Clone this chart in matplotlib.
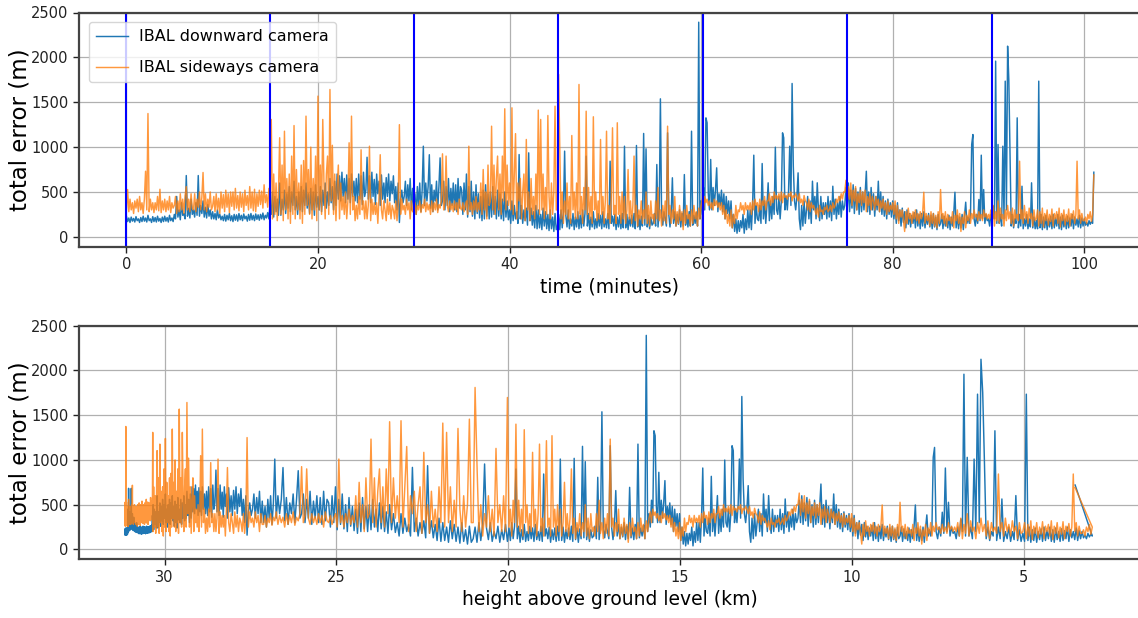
import numpy as np
import matplotlib
matplotlib.use("Agg")
import matplotlib.pyplot as plt

# ---- data: 8 samples per minute, one row per minute ----
down_cam = [
    230, 170, 210, 160, 220, 175, 205, 165,
    225, 180, 200, 160, 215, 170, 230, 175,
    210, 165, 240, 180, 200, 160, 225, 170,
    215, 165, 230, 175, 205, 160, 220, 170,
    230, 175, 215, 165, 240, 180, 210, 170,
    250, 200, 450, 220, 300, 190, 380, 240,
    260, 200, 683, 230, 320, 210, 420, 250,
    300, 220, 380, 240, 683, 230, 350, 260,
    400, 220, 330, 210, 360, 230, 300, 200,
    280, 200, 260, 190, 300, 210, 250, 190,
    230, 180, 250, 175, 240, 190, 260, 180,
    235, 170, 250, 185, 245, 175, 260, 190,
    240, 180, 255, 200, 230, 175, 250, 185,
    260, 190, 240, 180, 255, 195, 245, 185,
    250, 200, 265, 190, 240, 210, 270, 200,
    380, 250, 500, 220, 450, 280, 420, 240,
    600, 240, 420, 300, 520, 260, 480, 320,
    560, 280, 500, 350, 620, 300, 450, 250,
    500, 300, 560, 280, 520, 350, 600, 320,
    480, 260, 540, 300, 500, 240, 580, 330,
    450, 300, 560, 280, 520, 350, 600, 320,
    500, 350, 650, 380, 560, 300, 620, 350,
    700, 420, 680, 400, 720, 450, 650, 380,
    690, 420, 650, 380, 700, 450, 620, 400,
    650, 380, 700, 420, 680, 360, 720, 450,
    520, 887, 420, 680, 380, 720, 450, 640,
    360, 700, 480, 620, 350, 690, 420, 600,
    380, 660, 450, 700, 400, 620, 480, 680,
    380, 560, 300, 600, 160, 420, 520, 380,
    450, 620, 350, 580, 400, 650, 300, 540,
    300, 480, 250, 560, 350, 600, 280, 520,
    1010, 350, 600, 400, 560, 915, 320, 580,
    280, 520, 400, 620, 300, 560, 880, 350,
    400, 620, 300, 560, 350, 650, 280, 540,
    350, 600, 300, 580, 280, 650, 320, 560,
    520, 250, 600, 300, 700, 220, 560, 280,
    620, 230, 500, 200, 580, 260, 480, 210,
    450, 180, 520, 200, 580, 230, 480, 200,
    500, 220, 560, 250, 450, 200, 520, 230,
    480, 200, 420, 180, 500, 220, 400, 190,
    300, 150, 400, 180, 350, 200, 280, 150,
    917, 200, 350, 150, 300, 180, 320, 130,
    936, 180, 320, 130, 280, 100, 350, 90,
    300, 100, 250, 80, 320, 120, 280, 90,
    250, 70, 300, 90, 220, 60, 260, 80,
    120, 250, 80, 300, 100, 280, 955, 240,
    110, 300, 90, 200, 120, 260, 80, 220,
    110, 280, 90, 240, 100, 300, 120, 260,
    899, 120, 260, 80, 220, 110, 280, 90,
    200, 100, 260, 120, 240, 90, 280, 110,
    200, 100, 260, 90, 843, 150, 230, 120,
    250, 80, 220, 110, 240, 90, 260, 100,
    1010, 100, 250, 80, 220, 120, 240, 110,
    260, 90, 1018, 110, 240, 80, 230, 120,
    1152, 130, 981, 110, 240, 90, 220, 130,
    150, 260, 120, 806, 110, 280, 1538, 240,
    130, 280, 200, 120, 1159, 250, 110, 260,
    658, 150, 280, 120, 250, 140, 300, 110,
    260, 120, 694, 130, 240, 110, 280, 120,
    1177, 130, 240, 150, 270, 120, 2392, 200,
    400, 250, 550, 300, 1326, 1271, 480, 300,
    862, 300, 550, 350, 520, 769, 280, 480,
    350, 520, 280, 480, 200, 450, 260, 400,
    200, 400, 100, 250, 60, 200, 40, 180,
    60, 180, 100, 250, 40, 200, 80, 300,
    100, 300, 80, 350, 910, 150, 350, 200,
    180, 350, 150, 817, 200, 400, 150, 350,
    602, 180, 400, 200, 450, 250, 999, 300,
    250, 450, 200, 400, 1159, 1104, 300, 450,
    300, 500, 1010, 350, 1709, 787, 400, 300,
    450, 713, 200, 80, 350, 120, 400, 150,
    300, 450, 200, 400, 150, 620, 300, 450,
    200, 602, 300, 180, 450, 200, 380, 250,
    380, 200, 450, 220, 400, 180, 564, 250,
    420, 200, 380, 250, 450, 220, 400, 300,
    350, 550, 300, 600, 280, 520, 320, 580,
    260, 540, 300, 500, 250, 550, 280, 500,
    300, 480, 731, 280, 500, 250, 550, 300,
    480, 230, 450, 300, 620, 280, 500, 250,
    450, 230, 400, 200, 420, 250, 380, 220,
    400, 200, 350, 150, 380, 180, 300, 120,
    320, 160, 280, 100, 300, 140, 260, 110,
    240, 150, 270, 100, 300, 120, 250, 90,
    260, 120, 280, 100, 230, 140, 260, 110,
    240, 90, 260, 110, 220, 80, 250, 120,
    150, 250, 90, 230, 120, 200, 100, 240,
    80, 220, 120, 260, 497, 100, 240, 90,
    220, 100, 250, 80, 240, 386, 150, 220,
    150, 250, 1029, 1140, 200, 120, 250, 150,
    416, 180, 910, 200, 527, 150, 250, 180,
    200, 120, 250, 150, 341, 200, 1958, 150,
    1029, 150, 250, 120, 1010, 200, 1735, 300,
    2125, 1754, 973, 120, 250, 100, 200, 150,
    1326, 100, 250, 120, 564, 90, 200, 120,
    250, 90, 200, 110, 602, 100, 220, 90,
    180, 90, 1735, 100, 250, 80, 220, 100,
    240, 80, 200, 110, 230, 90, 250, 100,
    210, 120, 250, 90, 220, 80, 240, 110,
    200, 90, 230, 100, 210, 120, 250, 90,
    220, 130, 200, 110, 240, 100, 210, 120,
    200, 130, 160, 120, 180, 140, 170, 150,
    720,
]
side_cam = [
    300, 527, 280, 420, 300, 380, 260, 400,
    320, 420, 280, 450, 300, 380, 260, 420,
    731, 300, 1374, 280, 420, 300, 380, 270,
    380, 300, 450, 290, 530, 270, 400, 300,
    420, 280, 400, 300, 450, 270, 380, 320,
    350, 450, 260, 400, 280, 480, 300, 420,
    260, 460, 560, 300, 420, 280, 480, 320,
    300, 480, 280, 420, 330, 500, 300, 440,
    717, 300, 480, 280, 420, 330, 500, 300,
    340, 450, 280, 480, 300, 430, 260, 500,
    320, 470, 280, 520, 330, 480, 270, 500,
    340, 500, 300, 540, 320, 460, 290, 500,
    330, 480, 280, 520, 350, 460, 300, 560,
    320, 500, 290, 530, 280, 480, 340, 520,
    360, 510, 320, 580, 380, 470, 330, 540,
    400, 1308, 200, 700, 250, 600, 180, 500,
    1104, 250, 800, 180, 1177, 300, 650, 200,
    700, 150, 900, 250, 1240, 200, 750, 300,
    600, 200, 800, 150, 850, 250, 1345, 350,
    750, 250, 1000, 200, 650, 300, 900, 180,
    1568, 300, 800, 250, 1308, 600, 200, 700,
    900, 250, 1642, 400, 1020, 250, 700, 180,
    550, 800, 200, 600, 300, 450, 250, 500,
    200, 400, 1048, 250, 1345, 300, 450, 180,
    350, 200, 450, 250, 970, 300, 400, 200,
    400, 200, 350, 1010, 180, 420, 250, 380,
    250, 380, 150, 450, 915, 300, 200, 400,
    300, 180, 420, 250, 380, 200, 350, 300,
    200, 400, 180, 350, 1250, 250, 420, 300,
    350, 250, 420, 300, 380, 200, 400, 280,
    280, 380, 250, 350, 300, 400, 270, 360,
    320, 420, 280, 380, 300, 360, 250, 400,
    280, 380, 300, 420, 270, 360, 320, 400,
    925, 300, 380, 900, 350, 280, 400, 300,
    370, 280, 400, 300, 380, 250, 420, 320,
    300, 380, 280, 350, 400, 250, 1010, 300,
    380, 250, 400, 300, 450, 280, 380, 300,
    600, 250, 750, 300, 500, 200, 800, 350,
    400, 1233, 300, 800, 250, 650, 900, 300,
    700, 250, 900, 400, 1427, 300, 800, 350,
    600, 300, 1438, 250, 700, 1150, 200, 600,
    400, 650, 200, 500, 700, 180, 1085, 300,
    500, 180, 650, 250, 450, 200, 700, 300,
    1412, 250, 1308, 300, 700, 200, 550, 250,
    1352, 450, 200, 600, 250, 500, 1456, 300,
    300, 1810, 954, 200, 500, 150, 400, 250,
    600, 200, 450, 150, 1129, 300, 500, 200,
    600, 200, 1698, 250, 450, 150, 550, 300,
    1400, 250, 550, 200, 450, 150, 1338, 300,
    500, 180, 400, 200, 1085, 250, 450, 150,
    400, 1177, 200, 350, 150, 450, 1215, 250,
    350, 150, 1271, 250, 450, 150, 500, 200,
    450, 150, 300, 750, 200, 400, 150, 350,
    900, 180, 350, 120, 300, 200, 400, 150,
    300, 200, 500, 150, 350, 120, 400, 200,
    250, 150, 400, 200, 550, 180, 300, 120,
    350, 180, 400, 150, 1233, 250, 350, 150,
    300, 200, 450, 120, 280, 150, 350, 180,
    280, 80, 300, 150, 350, 200, 250, 120,
    300, 150, 350, 200, 280, 120, 320, 200,
    350, 420, 300, 450, 380, 420, 350, 400,
    320, 380, 300, 420, 350, 400, 330, 380,
    300, 380, 250, 350, 200, 300, 150, 250,
    120, 300, 100, 250, 150, 350, 200, 300,
    280, 380, 300, 350, 250, 380, 300, 350,
    300, 380, 250, 400, 300, 420, 350, 380,
    280, 420, 300, 400, 350, 450, 300, 400,
    400, 480, 350, 450, 380, 500, 420, 460,
    420, 480, 400, 500, 380, 480, 440, 460,
    420, 480, 450, 500, 400, 460, 440, 480,
    450, 400, 480, 380, 420, 350, 460, 400,
    380, 300, 420, 280, 380, 320, 350, 300,
    250, 320, 220, 350, 280, 300, 250, 330,
    300, 350, 280, 300, 350, 280, 380, 320,
    350, 420, 380, 450, 400, 480, 420, 500,
    500, 630, 380, 560, 420, 600, 350, 520,
    400, 560, 300, 480, 380, 520, 350, 500,
    380, 520, 280, 450, 350, 480, 300, 450,
    400, 300, 450, 350, 420, 280, 400, 320,
    420, 300, 380, 250, 400, 280, 350, 300,
    380, 250, 400, 200, 350, 150, 300, 220,
    300, 180, 60, 280, 150, 320, 200, 260,
    150, 280, 200, 300, 180, 260, 150, 280,
    200, 260, 497, 150, 260, 180, 240, 120,
    280, 150, 260, 120, 240, 100, 280, 150,
    527, 200, 260, 150, 280, 120, 250, 180,
    220, 150, 280, 100, 240, 180, 300, 150,
    260, 60, 220, 150, 280, 100, 240, 180,
    300, 150, 260, 200, 300, 220, 250, 180,
    280, 200, 250, 180, 300, 220, 260, 200,
    250, 200, 300, 150, 350, 120, 280, 180,
    400, 150, 320, 200, 250, 120, 300, 180,
    350, 200, 280, 150, 320, 120, 300, 200,
    250, 180, 843, 200, 300, 150, 350, 200,
    280, 150, 320, 200, 260, 120, 300, 180,
    200, 300, 120, 280, 150, 320, 110, 260,
    180, 300, 130, 250, 170, 310, 120, 260,
    200, 280, 150, 320, 110, 260, 180, 300,
    130, 250, 170, 310, 120, 260, 200, 290,
    150, 250, 843, 200, 300, 150, 260, 180,
    180, 220, 150, 250, 200, 280, 170, 250,
    690,
]
sample_step_min = 0.125

knot_time_min = [0, 3, 6.2, 8.1, 15.3, 19.9, 21.3, 23.5, 26.5, 28.6, 31.1, 39.5,
                 45.2, 47.3, 60.0, 69.5, 88.35, 90.85, 92.1, 95.3, 100.875, 101.0]
knot_height_km = [31.15, 31.12, 31.05, 30.93, 30.33, 29.59, 29.34, 28.9, 28.17, 27.57, 26.76, 23.45,
                  20.93, 20.0, 15.9, 13.2, 7.6, 6.7, 6.2, 4.9, 3.0, 3.5]

marker_times = [0, 15, 30, 45.07, 60.15, 75.22, 90.4]

top_xticks = [0, 20, 40, 60, 80, 100]
bottom_xticks = [30, 25, 20, 15, 10, 5]
yticks = [0, 500, 1000, 1500, 2000, 2500]

# ---- plotting ----
down = np.array(down_cam, dtype=float)
side = np.array(side_cam, dtype=float)
t_down = np.arange(len(down)) * sample_step_min
t_side = np.arange(len(side)) * sample_step_min
h_down = np.interp(t_down, knot_time_min, knot_height_km)
h_side = np.interp(t_side, knot_time_min, knot_height_km)

BLUE = "#1f77b4"
ORANGE = "#ff7f0e"

fig = plt.figure(figsize=(11.38, 6.18), dpi=100)
ax1 = fig.add_axes([79 / 1138, 1 - 246.7 / 618, 0.9330, (246.7 - 12.5) / 618])
ax2 = fig.add_axes([79 / 1138, 1 - 559.3 / 618, 0.9330, (559.3 - 325.7) / 618])

def style(ax):
    ax.grid(True, color="#b0b0b0", linewidth=0.9)
    ax.set_axisbelow(True)
    for s in ax.spines.values():
        s.set_color("#444444")
        s.set_linewidth(1.6)
    ax.tick_params(axis="both", labelsize=10.5, colors="#222222", length=4, width=1)
    ax.set_yticks(yticks)
    ax.set_ylim(-110, 2500)
    ax.set_ylabel("total error (m)", fontsize=16.5, labelpad=0)

ax1.plot(t_down, down, color=BLUE, linewidth=1.05, label="IBAL downward camera")
ax1.plot(t_side, side, color=ORANGE, linewidth=1.05, alpha=0.8, label="IBAL sideways camera")
for mt in marker_times:
    ax1.axvline(mt, color="blue", linewidth=1.5)
style(ax1)
ax1.set_xlim(-4.95, 105.9)
ax1.set_xticks(top_xticks)
ax1.set_xlabel("time (minutes)", fontsize=13.5)
ax1.legend(loc="upper left", fontsize=11.5, labelspacing=1.0, borderpad=0.45,
           borderaxespad=0.6, handletextpad=0.7)

ax2.plot(h_down, down, color=BLUE, linewidth=1.05)
ax2.plot(h_side, side, color=ORANGE, linewidth=1.05, alpha=0.8)
style(ax2)
ax2.set_xlim(32.49, 1.59)
ax2.set_xticks(bottom_xticks)
ax2.set_xlabel("height above ground level (km)", fontsize=13.5)

fig.savefig("out.png", dpi=100)
